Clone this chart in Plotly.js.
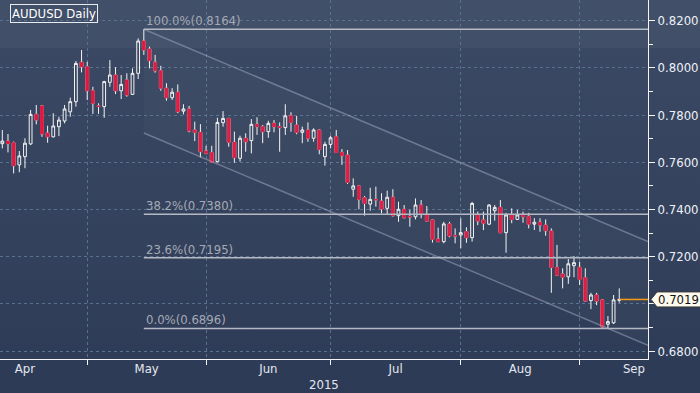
<!DOCTYPE html>
<html><head><meta charset="utf-8">
<script src="https://cdn.plot.ly/plotly-3.0.1.min.js"></script>
<style>
html,body{margin:0;padding:0;background:#2e3b56;}
#chart{width:700px;height:393px;
background:linear-gradient(to bottom,#414f69 0px,#414f69 48px,#3a4863 48px,#37445f 150px,#34415c 250px,#2d3a55 393px);}
</style></head><body><div id="chart"></div><script>
// ---- data (AUDUSD daily, trading-day index) ----
const openP  = [0.7679,0.7690,0.7683,0.7589,0.7624,0.7678,0.7803,0.7839,0.7724,0.7708,0.7751,0.7775,0.7814,0.7857,0.8024,0.8005,0.7903,0.7839,0.7836,0.7939,0.7970,0.7903,0.7949,0.7888,0.7977,0.8114,0.8080,0.8024,0.7988,0.7914,0.7874,0.7897,0.7817,0.7826,0.7737,0.7727,0.7648,0.7641,0.7603,0.7768,0.7786,0.7685,0.7617,0.7702,0.7692,0.7761,0.7751,0.7730,0.7765,0.7751,0.7747,0.7797,0.7758,0.7727,0.7737,0.7702,0.7737,0.7624,0.7676,0.7708,0.7642,0.7631,0.7486,0.7500,0.7450,0.7423,0.7443,0.7436,0.7405,0.7452,0.7374,0.7401,0.7371,0.7369,0.7419,0.7380,0.7356,0.7275,0.7264,0.7339,0.7290,0.7292,0.7306,0.7281,0.7377,0.7356,0.7338,0.7395,0.7409,0.7302,0.7377,0.7358,0.7377,0.7372,0.7338,0.7346,0.7334,0.7309,0.7155,0.7127,0.7115,0.7162,0.7155,0.7111,0.7014,0.7038,0.7017,0.6914,0.6920,0.7015];
const highP  = [0.7737,0.7720,0.7688,0.7648,0.7702,0.7822,0.7843,0.7843,0.7755,0.7808,0.7793,0.7843,0.7874,0.8029,0.8076,0.8026,0.7920,0.7850,0.7945,0.8033,0.8003,0.7970,0.7977,0.7998,0.8125,0.8164,0.8090,0.8055,0.8009,0.7935,0.7914,0.7930,0.7846,0.7839,0.7772,0.7762,0.7670,0.7670,0.7789,0.7817,0.7788,0.7730,0.7713,0.7723,0.7783,0.7791,0.7758,0.7776,0.7779,0.7769,0.7846,0.7812,0.7796,0.7751,0.7769,0.7744,0.7741,0.7687,0.7713,0.7737,0.7656,0.7652,0.7532,0.7502,0.7457,0.7492,0.7497,0.7469,0.7480,0.7486,0.7433,0.7419,0.7398,0.7447,0.7440,0.7415,0.7358,0.7323,0.7348,0.7348,0.7320,0.7363,0.7325,0.7432,0.7391,0.7391,0.7423,0.7419,0.7440,0.7386,0.7405,0.7398,0.7391,0.7386,0.7363,0.7363,0.7358,0.7320,0.7250,0.7151,0.7190,0.7203,0.7179,0.7151,0.7047,0.7047,0.7020,0.6949,0.7038,0.7066];
const lowP   = [0.7659,0.7642,0.7553,0.7558,0.7575,0.7673,0.7761,0.7708,0.7683,0.7706,0.7711,0.7765,0.7793,0.7836,0.7981,0.7864,0.7805,0.7805,0.7789,0.7920,0.7889,0.7868,0.7878,0.7885,0.7953,0.8055,0.7998,0.7980,0.7903,0.7861,0.7864,0.7808,0.7803,0.7727,0.7690,0.7621,0.7634,0.7597,0.7600,0.7751,0.7666,0.7598,0.7603,0.7645,0.7638,0.7716,0.7681,0.7704,0.7727,0.7645,0.7716,0.7730,0.7719,0.7681,0.7687,0.7687,0.7634,0.7586,0.7659,0.7640,0.7589,0.7508,0.7454,0.7401,0.7374,0.7395,0.7412,0.7384,0.7377,0.7370,0.7348,0.7363,0.7327,0.7358,0.7363,0.7350,0.7260,0.7262,0.7257,0.7282,0.7257,0.7236,0.7259,0.7264,0.7334,0.7313,0.7334,0.7353,0.7300,0.7217,0.7342,0.7356,0.7344,0.7320,0.7313,0.7306,0.7289,0.7047,0.7120,0.7066,0.7085,0.7113,0.7080,0.7010,0.6978,0.6995,0.6900,0.6896,0.6915,0.7005];
const closeP = [0.7690,0.7679,0.7586,0.7627,0.7681,0.7803,0.7779,0.7720,0.7708,0.7754,0.7779,0.7826,0.7857,0.8019,0.8005,0.7903,0.7850,0.7837,0.7942,0.7970,0.7903,0.7930,0.7885,0.7977,0.8114,0.8076,0.8031,0.7988,0.7914,0.7874,0.7897,0.7814,0.7826,0.7733,0.7727,0.7645,0.7638,0.7600,0.7769,0.7786,0.7685,0.7620,0.7702,0.7687,0.7761,0.7751,0.7730,0.7765,0.7751,0.7747,0.7797,0.7769,0.7727,0.7737,0.7702,0.7737,0.7655,0.7676,0.7704,0.7642,0.7628,0.7515,0.7500,0.7443,0.7426,0.7443,0.7441,0.7402,0.7452,0.7374,0.7401,0.7365,0.7369,0.7419,0.7380,0.7351,0.7274,0.7264,0.7339,0.7288,0.7288,0.7302,0.7281,0.7426,0.7351,0.7342,0.7419,0.7409,0.7302,0.7377,0.7358,0.7377,0.7370,0.7338,0.7346,0.7334,0.7310,0.7155,0.7122,0.7113,0.7170,0.7175,0.7104,0.7012,0.7038,0.7012,0.6903,0.6925,0.7017,0.7019];

const monthStartIdx = [15, 36, 58, 81, 102];
const monthLabelIdx = [4, 25.5, 47, 69.5, 91.5, 111.6];
const monthLabels   = ['Apr','May','Jun','Jul','Aug','Sep'];
const yearLabel     = '2015';
const yTickVals     = [0.68,0.70,0.72,0.74,0.76,0.78,0.80,0.82];
const fibRatios     = [1.0, 0.382, 0.236, 0.0];
const channelSlope  = [-0.00101];   // price change per trading day of the channel
const chartTitle    = 'AUDUSD Daily';

// ---- derived ----
const idx = openP.map((_, i) => i);
const xRange = [-0.41, 114.08];
const yRange = [0.67667, 0.82877];
let peakIdx = 0, troughIdx = 0;
highP.forEach((v, i) => { if (v > highP[peakIdx]) peakIdx = i; });
lowP.forEach((v, i) => { if (v < lowP[troughIdx]) troughIdx = i; });
const hi = highP[peakIdx], lo = lowP[troughIdx];
const fibVals = fibRatios.map(r => lo + r * (hi - lo));
const lastIdx = idx[idx.length - 1], lastClose = closeP[closeP.length - 1];
const s = channelSlope[0];
const upperAt = x => hi + s * (x - peakIdx);
const lowerAt = x => lo + s * (x - troughIdx);

const RED = '#dc1a40', WHITE = '#f4f4f4';
const FONT = "'DejaVu Sans Condensed','Liberation Sans Narrow','Arial Narrow',sans-serif";

const dIdx = idx.filter(i => closeP[i] < openP[i]);

const traces = [
  { type:'scatter', mode:'lines', hoverinfo:'skip', showlegend:false,
    x:[peakIdx, xRange[1], xRange[1], peakIdx, peakIdx],
    y:[upperAt(peakIdx), upperAt(xRange[1]), lowerAt(xRange[1]), lowerAt(peakIdx), upperAt(peakIdx)],
    fill:'toself', fillcolor:'rgba(255,255,255,0.025)', line:{width:0} },
  { type:'scatter', mode:'lines', hoverinfo:'skip', showlegend:false,
    x:[peakIdx, xRange[1]], y:[upperAt(peakIdx), upperAt(xRange[1])],
    line:{color:'rgba(175,185,205,0.45)', width:1.5} },
  { type:'scatter', mode:'lines', hoverinfo:'skip', showlegend:false,
    x:[peakIdx, xRange[1]], y:[lowerAt(peakIdx), lowerAt(xRange[1])],
    line:{color:'rgba(175,185,205,0.45)', width:1.5} },
  { type:'candlestick', x:idx, open:openP, high:highP, low:lowP, close:closeP,
    hoverinfo:'skip', showlegend:false, line:{width:1},
    increasing:{line:{color:WHITE, width:1}, fillcolor:'rgba(0,0,0,0)'},
    decreasing:{line:{color:WHITE, width:1}, fillcolor:RED} },
  { type:'candlestick', x:dIdx, open:dIdx.map(i=>openP[i]), high:dIdx.map(i=>openP[i]),
    low:dIdx.map(i=>closeP[i]), close:dIdx.map(i=>closeP[i]),
    hoverinfo:'skip', showlegend:false,
    increasing:{line:{color:RED, width:1}, fillcolor:RED},
    decreasing:{line:{color:RED, width:1}, fillcolor:RED} },
  { type:'scatter', mode:'lines', hoverinfo:'skip', showlegend:false, xaxis:'x2', yaxis:'y',
    x:[xRange[0]], y:[null] }
];

const shapes = fibVals.map(v => ({
  type:'line', xref:'x', yref:'y', x0:peakIdx, x1:xRange[1], y0:v, y1:v,
  line:{color:'#b4b9c3', width:1.5}, layer:'above'
}));
shapes.push({ type:'line', xref:'x', yref:'y', x0:lastIdx, x1:xRange[1], y0:lastClose, y1:lastClose,
  line:{color:'#f39a1b', width:1.5}, layer:'above' });
shapes.push({ type:'path', xref:'paper', yref:'y', xsizemode:'pixel', ysizemode:'pixel',
  xanchor:1, yanchor:lastClose,
  path:'M 3 0 L 9 7.5 L 60 7.5 L 60 -7.5 L 9 -7.5 Z',
  fillcolor:'#fffcef', line:{color:'#3a3a3a', width:1}, layer:'above' });

const annotations = fibRatios.map((r, k) => ({
  xref:'x', yref:'y', x:peakIdx, y:fibVals[k], xanchor:'left', yanchor:'bottom',
  xshift:0, yshift:-1, showarrow:false,
  text:(r*100).toFixed(1) + '%(' + fibVals[k].toFixed(4) + ')',
  font:{family:FONT, size:13, color:'#a4aab5'}
}));
annotations.push({ xref:'paper', yref:'paper', x:0.016, y:0.988, xanchor:'left', yanchor:'top',
  showarrow:false, text:chartTitle, bordercolor:'#e8ebf0', borderwidth:1, borderpad:1,
  font:{family:FONT, size:13, color:'#ffffff'} });
annotations.push({ xref:'paper', yref:'paper', x:0.5, y:-0.072, xanchor:'center', yanchor:'middle',
  showarrow:false, text:yearLabel, font:{family:FONT, size:13, color:'#e3e8f0'} });
annotations.push({ xref:'paper', yref:'y', x:1, y:lastClose, xanchor:'left', yanchor:'middle',
  xshift:8, showarrow:false, text:lastClose.toFixed(4),
  font:{family:FONT, size:13, color:'#111111'} });

// tick labels hidden behind the last-price tag (as in the original)
const yTickText = yTickVals.map(v => Math.abs(v - lastClose) < 0.004 ? '' : v.toFixed(4));

const layout = {
  width:700, height:393, margin:{l:0, r:52, t:0, b:34},
  paper_bgcolor:'rgba(0,0,0,0)', plot_bgcolor:'rgba(0,0,0,0)',
  showlegend:false, hovermode:false,
  xaxis:{ range:xRange, rangeslider:{visible:false}, tickmode:'array', tickvals:monthStartIdx,
    showticklabels:false, ticks:'outside', ticklen:5, tickcolor:WHITE,
    showgrid:true, gridcolor:'#57718f', griddash:'3px,3px', gridwidth:1,
    showline:true, linecolor:WHITE, linewidth:1, zeroline:false, fixedrange:true },
  xaxis2:{ overlaying:'x', anchor:'y', side:'bottom', range:xRange, tickmode:'array',
    tickvals:monthLabelIdx, ticktext:monthLabels, ticks:'', showgrid:false, showline:false,
    zeroline:false, tickfont:{family:FONT, size:13, color:'#e3e8f0'} },
  yaxis:{ side:'right', range:yRange, tickmode:'array', tickvals:yTickVals,
    ticktext:yTickText, ticks:'outside', ticklen:6, tickcolor:WHITE,
    tickfont:{family:FONT, size:13, color:'#eef2f8'},
    minor:{dtick:0.01, tick0:0.67, ticks:'outside', ticklen:4, tickcolor:WHITE, showgrid:false},
    showgrid:true, gridcolor:'#57718f', griddash:'3px,3px', gridwidth:1,
    showline:true, linecolor:WHITE, linewidth:1, zeroline:false, fixedrange:true },
  shapes, annotations
};

Plotly.newPlot('chart', traces, layout, {displayModeBar:false, staticPlot:true});
</script></body></html>
